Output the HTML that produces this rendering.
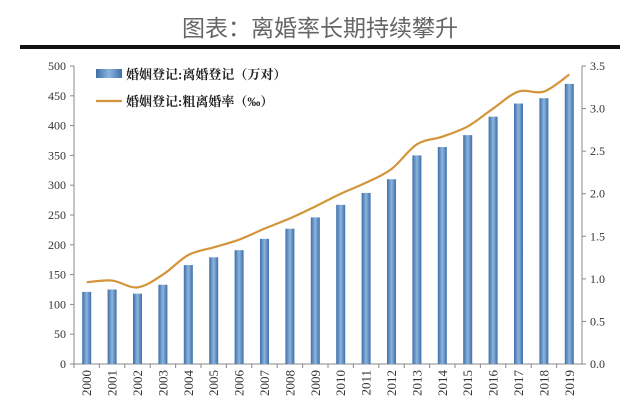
<!DOCTYPE html>
<html><head><meta charset="utf-8"><style>
body{margin:0;background:#fff;width:640px;height:412px;overflow:hidden;font-family:"Liberation Serif","Noto Serif CJK SC",serif}
</style></head><body>
<svg width="640" height="412">
<text x="320" y="36" text-anchor="middle" font-size="23" fill="#666" font-family="Liberation Sans,Noto Sans CJK SC,sans-serif">图表：离婚率长期持续攀升</text>
<rect x="20" y="45" width="600" height="4" fill="#111"/>
<g id="plot"></g>
</svg>
<script>
const years=["2000","2001","2002","2003","2004","2005","2006","2007","2008","2009","2010","2011","2012","2013","2014","2015","2016","2017","2018","2019"];
const divorces=[121,125,118,133,166,179,191,210,227,246,267,287,310,350,364,384,415,437,446,470];
const rates=[0.96,0.98,0.90,1.05,1.28,1.37,1.46,1.59,1.71,1.85,2.00,2.13,2.29,2.58,2.67,2.79,3.00,3.20,3.20,3.40];
const leftTicks=[0,50,100,150,200,250,300,350,400,450,500];
const rightTicks=["0.0","0.5","1.0","1.5","2.0","2.5","3.0","3.5"];
const ns="http://www.w3.org/2000/svg",g=document.getElementById('plot');
const L=74,R=582,T=66,B=364;
const yL=v=>B-(v/500)*(B-T), yR=v=>B-(v/3.5)*(B-T);
const step=(R-L)/years.length, xc=i=>L+step*(i+0.5);
function el(t,a,txt){const e=document.createElementNS(ns,t);for(const k in a)e.setAttribute(k,a[k]);if(txt!=null)e.textContent=txt;g.appendChild(e);return e;}
const defs=el('defs',{});defs.innerHTML='<linearGradient id="bg" x1="0" x2="1"><stop offset="0" stop-color="#3d6fa8"/><stop offset="0.5" stop-color="#8db4df"/><stop offset="1" stop-color="#3d6fa8"/></linearGradient>';
let e;
e=el('line',{x1:L,y1:T,x2:L,y2:B,stroke:'#888'});
e=el('line',{x1:R,y1:T,x2:R,y2:B,stroke:'#888'});
e=el('line',{x1:L,y1:B,x2:R,y2:B,stroke:'#888'});
leftTicks.forEach(v=>{const y=yL(v);el('line',{x1:L-4,y1:y,x2:L,y2:y,stroke:'#888'});
e=el('text',{x:L-8,y:y+4,'text-anchor':'end','font-size':12,fill:'#333'},v);});
rightTicks.forEach(v=>{const y=yR(+v);el('line',{x1:R,y1:y,x2:R+4,y2:y,stroke:'#888'});
e=el('text',{x:R+8,y:y+4,'font-size':12,fill:'#333'},v);});
years.forEach((yr,i)=>{const x=xc(i);
el('line',{x1:L+step*i,y1:B,x2:L+step*i,y2:B+4,stroke:'#888'});
e=el('rect',{x:x-4.5,y:yL(divorces[i]),width:9,height:B-yL(divorces[i]),fill:'url(#bg)'});
e=el('text',{transform:`translate(${x+4.5},${B+6}) rotate(-90)`,'text-anchor':'end','font-size':13,fill:'#333'},yr);});
const pts=rates.map((v,i)=>[xc(i),yR(v)]);
let d='M'+pts[0][0]+','+pts[0][1];
for(let i=0;i<pts.length-1;i++){const p0=pts[Math.max(0,i-1)],p1=pts[i],p2=pts[i+1],p3=pts[Math.min(pts.length-1,i+2)];
const c1=[p1[0]+(p2[0]-p0[0])/6,p1[1]+(p2[1]-p0[1])/6],c2=[p2[0]-(p3[0]-p1[0])/6,p2[1]-(p3[1]-p1[1])/6];
d+=`C${c1[0]},${c1[1]} ${c2[0]},${c2[1]} ${p2[0]},${p2[1]}`;}
e=el('path',{d:d,fill:'none',stroke:'#d4943a','stroke-width':2.2,'stroke-linejoin':'round'});
e=el('rect',{x:96,y:69,width:26,height:9,fill:'url(#bg)'});
e=el('text',{x:126,y:79,'font-size':13,'font-weight':'bold',fill:'#222'},'婚姻登记:离婚登记（万对）');
e=el('line',{x1:96,y1:101,x2:122,y2:101,stroke:'#d4943a','stroke-width':2.2});
e=el('text',{x:126,y:106,'font-size':13,'font-weight':'bold',fill:'#222'},'婚姻登记:粗离婚率（‰）');
</script>
</body></html>
